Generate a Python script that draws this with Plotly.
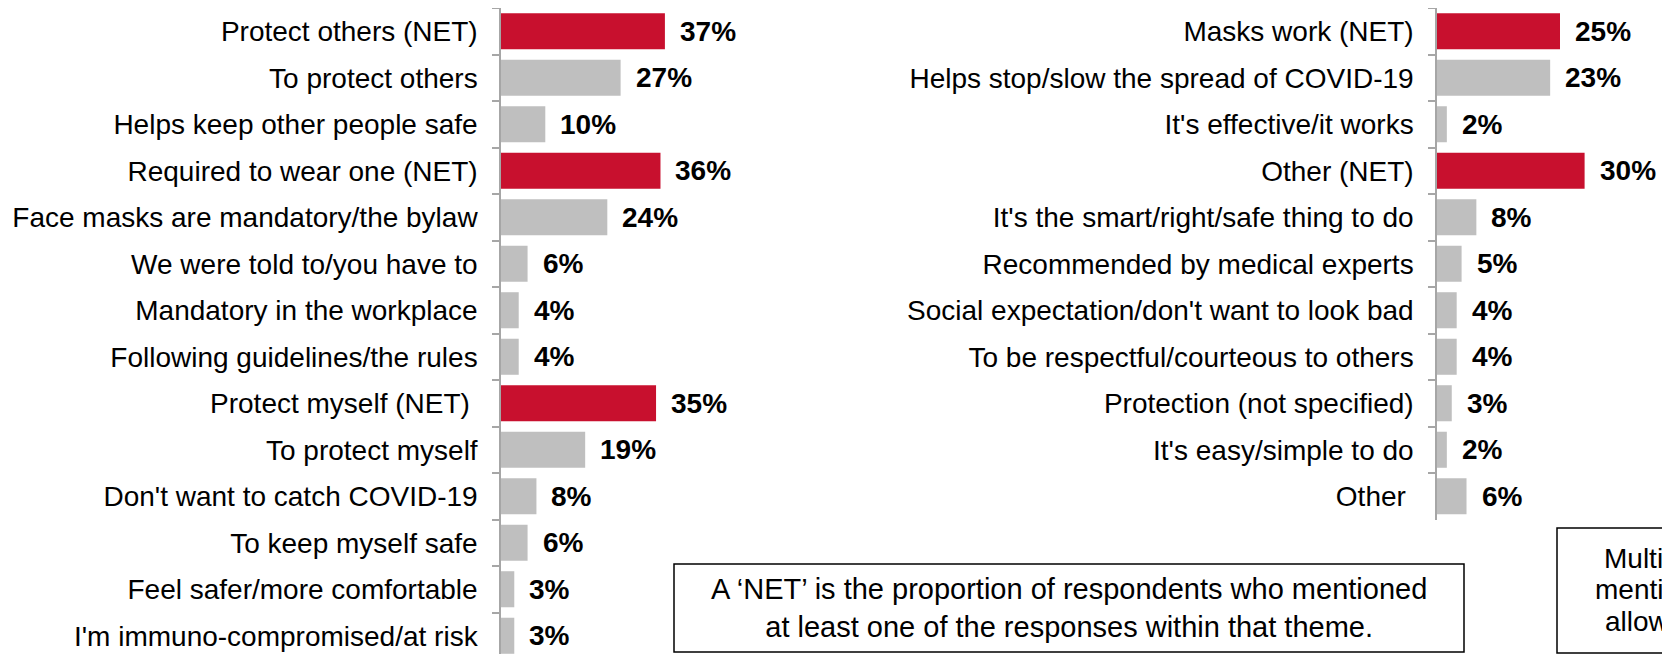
import plotly.graph_objects as go

# ---- data ----
left_labels = [
    "Protect others (NET)",
    "To protect others",
    "Helps keep other people safe",
    "Required to wear one (NET)",
    "Face masks are mandatory/the bylaw",
    "We were told to/you have to",
    "Mandatory in the workplace",
    "Following guidelines/the rules",
    "Protect myself (NET)\u00a0",
    "To protect myself",
    "Don't want to catch COVID-19",
    "To keep myself safe",
    "Feel safer/more comfortable",
    "I'm immuno-compromised/at risk",
]
left_values = [37, 27, 10, 36, 24, 6, 4, 4, 35, 19, 8, 6, 3, 3]

right_labels = [
    "Masks work (NET)",
    "Helps stop/slow the spread of COVID-19",
    "It's effective/it works",
    "Other (NET)",
    "It's the smart/right/safe thing to do",
    "Recommended by medical experts",
    "Social expectation/don't want to look bad",
    "To be respectful/courteous to others",
    "Protection (not specified)",
    "It's easy/simple to do",
    "Other\u00a0",
]
right_values = [25, 23, 2, 30, 8, 5, 4, 4, 3, 2, 6]

note_text = "A \u2018NET\u2019 is the proportion of respondents who mentioned<br>at least one of the responses within that theme."
side_note_lines = ["Multiple", "mentions", "allowed"]

# ---- styling / geometry (page pixels) ----
PAGE_W, PAGE_H = 1670, 654
OFF = 8                      # default page body margin
FW, FH = PAGE_W - OFF, PAGE_H - OFF
FONT = "Arial, 'Liberation Sans', sans-serif"
RED = "#C8102E"
GREY = "#BFBFBF"
AXIS = "#A6A6A6"
ROW = 46.5


def px(xp):
    return (xp - OFF) / FW


def py(yp):
    return 1 - (yp - OFF) / FH


def colors(labels):
    return [RED if "(NET)" in l else GREY for l in labels]


fig = go.Figure()
fig.add_trace(go.Bar(x=left_values, y=left_labels, orientation="h",
                     marker=dict(color=colors(left_labels), line=dict(width=0)),
                     width=0.775, xaxis="x", yaxis="y", hoverinfo="skip"))
fig.add_trace(go.Bar(x=right_values, y=right_labels, orientation="h",
                     marker=dict(color=colors(right_labels), line=dict(width=0)),
                     width=0.775, xaxis="x2", yaxis="y2", hoverinfo="skip"))

annotations = []
for lab, v in zip(left_labels, left_values):
    annotations.append(dict(x=v, y=lab, xref="x", yref="y", text=f"<b>{v}%</b>",
                            showarrow=False, xanchor="left", yanchor="middle", xshift=13,
                            font=dict(size=28, color="black", family=FONT)))
for lab, v in zip(right_labels, right_values):
    annotations.append(dict(x=v, y=lab, xref="x2", yref="y2", text=f"<b>{v}%</b>",
                            showarrow=False, xanchor="left", yanchor="middle", xshift=13,
                            font=dict(size=28, color="black", family=FONT)))

# note boxes
bx0, bx1, by0, by1 = 674, 1464, 564, 652
sx0, sx1, sy0, sy1 = 1557, 1760, 528, 653
shapes = [
    dict(type="rect", xref="paper", yref="paper", x0=px(bx0), x1=px(bx1), y0=py(by1), y1=py(by0),
         line=dict(color="black", width=1.5), fillcolor="rgba(0,0,0,0)"),
    dict(type="rect", xref="paper", yref="paper", x0=px(sx0), x1=px(sx1), y0=py(sy1), y1=py(sy0),
         line=dict(color="black", width=1.5), fillcolor="rgba(0,0,0,0)"),
]
annotations.append(dict(x=px((bx0 + bx1) / 2), y=py(608), xref="paper", yref="paper",
                        text=note_text, showarrow=False, xanchor="center", yanchor="middle",
                        align="center", font=dict(size=29, color="black", family=FONT)))
for i, line in enumerate(side_note_lines):
    annotations.append(dict(x=px(1652), y=py(558 + i * 31.5), xref="paper", yref="paper",
                            text=line, showarrow=False, xanchor="center", yanchor="middle",
                            font=dict(size=28, color="black", family=FONT)))

# left panel
lx0, lscale, lwidth, ltop = 501, 4.43, 250, 8
# right panel
rx0, rscale, rtop = 1437, 4.92, 8
rn = len(right_labels)

yaxis_common = dict(type="category", showline=True, linecolor=AXIS, linewidth=1.5,
                    ticks="outside", tickson="boundaries", ticklen=7, tickwidth=1.5,
                    tickcolor=AXIS, showgrid=False, zeroline=False,
                    tickfont=dict(size=28, color="black", family=FONT),
                    ticklabelstandoff=16, fixedrange=True)

fig.update_layout(
    width=FW, height=FH,
    margin=dict(l=0, r=0, t=0, b=0),
    paper_bgcolor="white", plot_bgcolor="white",
    showlegend=False,
    font=dict(family=FONT, color="black"),
    xaxis=dict(domain=[px(lx0), px(lx0 + lwidth)], range=[0, lwidth / lscale],
               visible=False, anchor="y", fixedrange=True),
    yaxis=dict(domain=[0, py(ltop)], anchor="x",
               categoryorder="array", categoryarray=left_labels,
               range=[-0.5 + (PAGE_H - ltop) / ROW, -0.5], **yaxis_common),
    xaxis2=dict(domain=[px(rx0), 1], range=[0, (PAGE_W - rx0) / rscale],
                visible=False, anchor="y2", fixedrange=True),
    yaxis2=dict(domain=[py(rtop + rn * ROW), py(rtop)], anchor="x2",
                categoryorder="array", categoryarray=right_labels,
                range=[rn - 0.5, -0.5], **yaxis_common),
    shapes=shapes,
    annotations=annotations,
)

fig.write_html("out.html")
